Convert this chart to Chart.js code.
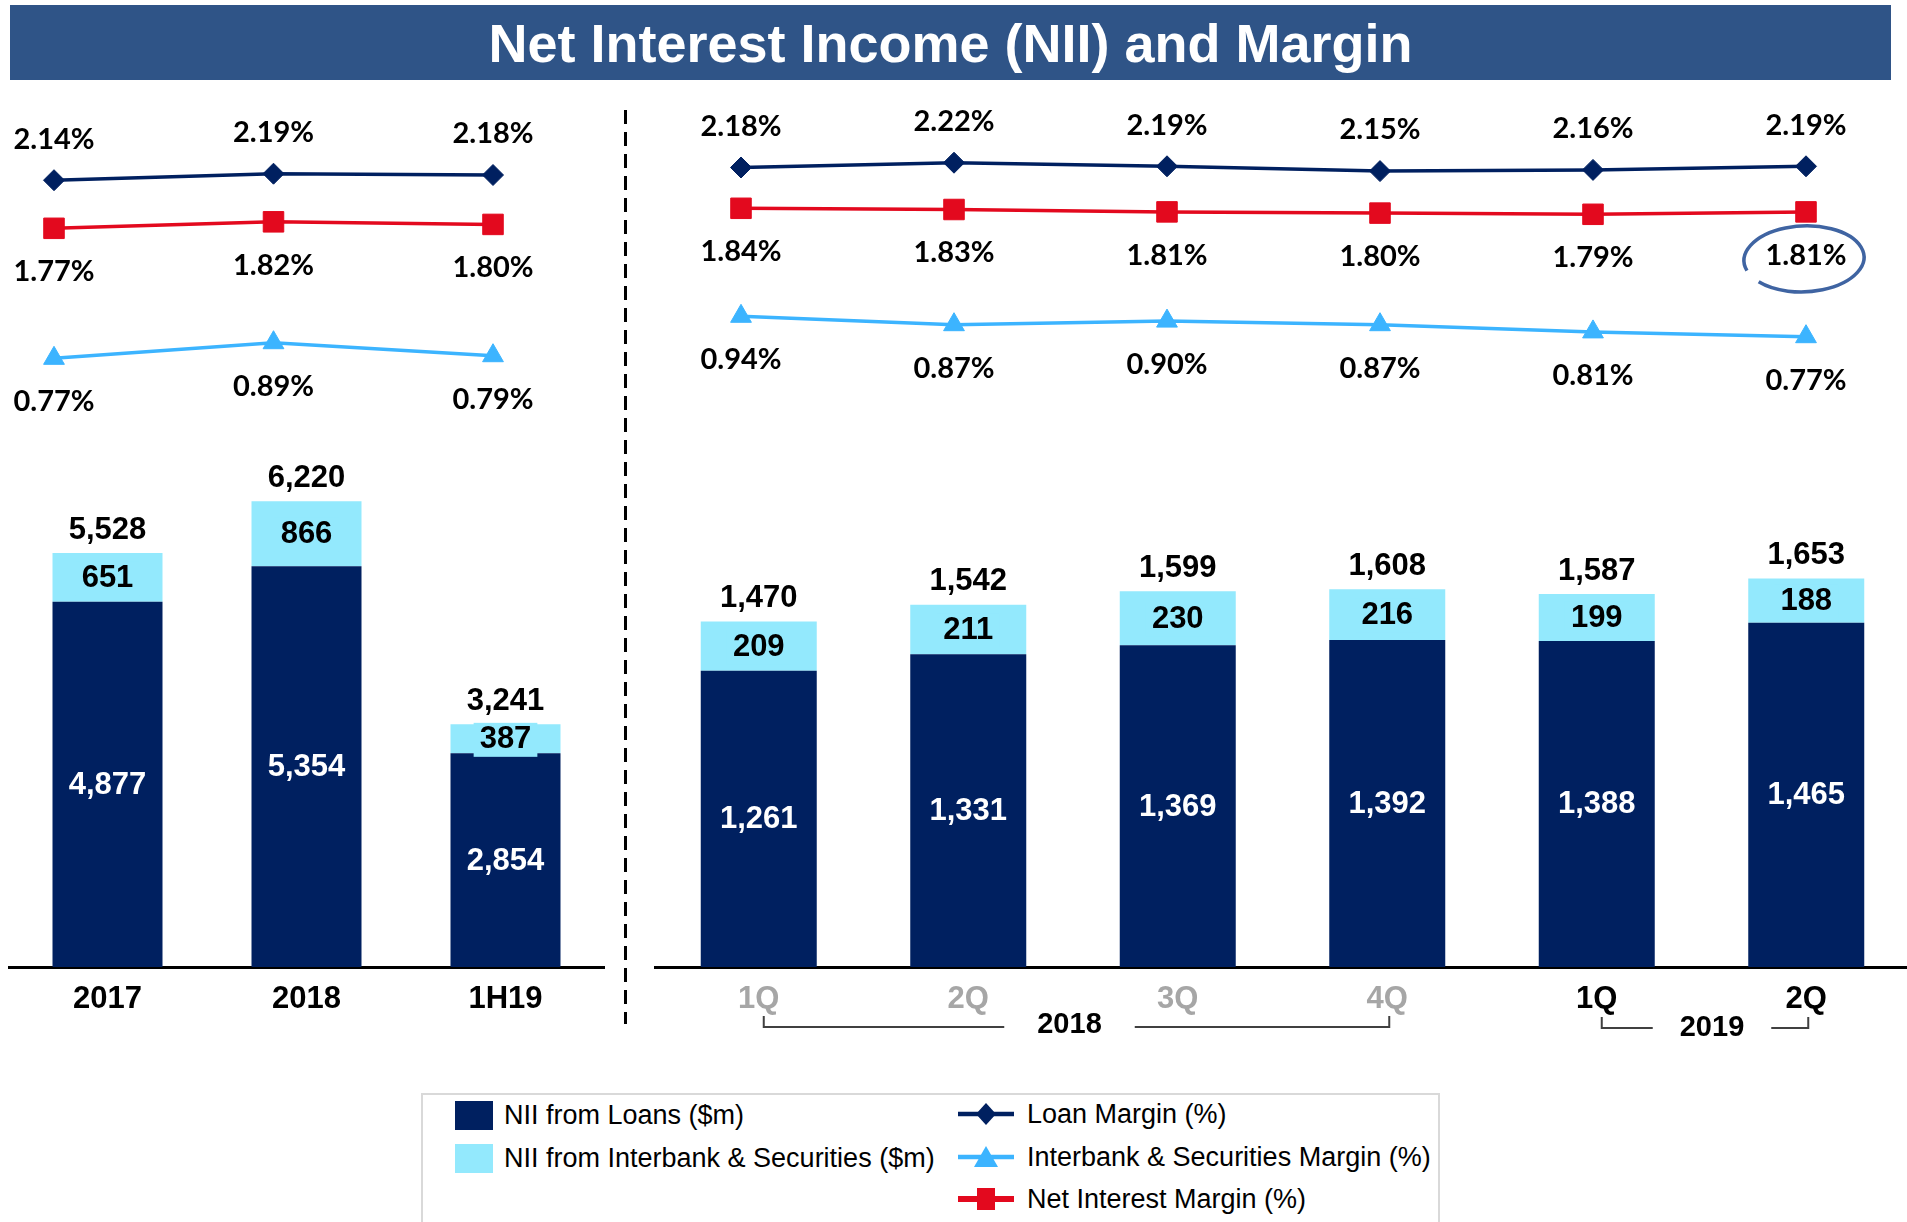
<!DOCTYPE html>
<html>
<head>
<meta charset="utf-8">
<title>Net Interest Income (NII) and Margin</title>
<script src="https://cdn.jsdelivr.net/npm/chart.js@4.4.1/dist/chart.umd.min.js"></script>
<style>
  html, body { margin:0; padding:0; background:#fff; }
  body { width:1907px; height:1222px; overflow:hidden; position:relative; font-family:"Liberation Sans", Arial, sans-serif; }
  canvas { display:block; }
  #title { position:absolute; left:10px; top:5px; width:1881px; height:75px; background:#2F5487; color:#fff;
           font-weight:bold; font-size:54px; line-height:76px; text-align:center; z-index:3; white-space:nowrap; }
  .box { position:absolute; top:0; }
  #leftBars { left:8px; width:597px; height:1057px; }
  #rightBars { left:654px; width:1257px; height:1057px; }
  #leftLines { left:0; width:640px; height:460px; z-index:2; }
  #rightLines { left:640px; width:1267px; height:460px; z-index:2; }
  #divider { position:absolute; left:0; top:0; z-index:1; pointer-events:none; }
  #legend { position:absolute; left:421px; top:1093px; width:1019px; height:160px; border:2px solid #D9D9D9; box-sizing:border-box; }
  .lg { position:absolute; height:40px; display:flex; align-items:center; font-size:27px; color:#000; white-space:nowrap; }
  .sw { display:inline-block; width:38px; height:29px; margin-right:11px; }
  .mk { display:inline-block; margin-right:13px; }
</style>
</head>
<body>
<div id="title">Net Interest Income (NII) and Margin</div>
<div class="box" id="leftBars"><canvas id="leftBarChart" width="597" height="1057"></canvas></div>
<div class="box" id="rightBars"><canvas id="rightBarChart" width="1257" height="1057"></canvas></div>
<div class="box" id="leftLines"><canvas id="leftLineChart" width="640" height="460"></canvas></div>
<div class="box" id="rightLines"><canvas id="rightLineChart" width="1267" height="460"></canvas></div>
<svg id="divider" width="1907" height="1222"><line x1="625.5" y1="110" x2="625.5" y2="1024" stroke="#000" stroke-width="3" stroke-dasharray="14 8"/></svg>
<div id="legend"></div>

<script>
// ---------------- DATA ----------------
const annualLabels = ['2017', '2018', '1H19'];
const annualLoanNII = [4877, 5354, 2854];
const annualInterbankNII = [651, 866, 387];
const annualTotalNII = [5528, 6220, 3241];
const annualLoanMargin = [2.14, 2.19, 2.18];
const annualNetInterestMargin = [1.77, 1.82, 1.80];
const annualInterbankMargin = [0.77, 0.89, 0.79];

const quarterLabels = ['1Q', '2Q', '3Q', '4Q', '1Q', '2Q'];
const quarterYears = ['2018', '2018', '2018', '2018', '2019', '2019'];
const quarterLoanNII = [1261, 1331, 1369, 1392, 1388, 1465];
const quarterInterbankNII = [209, 211, 230, 216, 199, 188];
const quarterTotalNII = [1470, 1542, 1599, 1608, 1587, 1653];
const quarterLoanMargin = [2.18, 2.22, 2.19, 2.15, 2.16, 2.19];
const quarterNetInterestMargin = [1.84, 1.83, 1.81, 1.80, 1.79, 1.81];
const quarterInterbankMargin = [0.94, 0.87, 0.90, 0.87, 0.81, 0.77];

const seriesNames = {
  loanNII: 'NII from Loans ($m)',
  ibNII: 'NII from Interbank & Securities ($m)',
  loanM: 'Loan Margin (%)',
  ibM: 'Interbank & Securities Margin (%)',
  nim: 'Net Interest Margin (%)'
};

// ---------------- STYLE ----------------
const NAVY = '#002060';
const LIGHT = '#93E9FD';
const SKY = '#3CB4FF';
const RED = '#E3091E';
const BAR_FONT = 'bold 31px "Liberation Sans", Arial, sans-serif';
const PCT_FONT = 'bold 29px Lato, "Liberation Sans", sans-serif';

const fmt = n => n.toLocaleString('en-US');

const valueLabelPlugin = {
  id: 'valueLabels',
  afterDatasetsDraw(chart) {
    const ctx = chart.ctx;
    ctx.save();
    ctx.textAlign = 'center';
    ctx.textBaseline = 'middle';
    chart.data.datasets.forEach((ds, di) => {
      const meta = chart.getDatasetMeta(di);
      meta.data.forEach((el, i) => {
        if (ds.role === 'loanBar') {
          ctx.font = BAR_FONT; ctx.fillStyle = '#fff';
          ctx.fillText(fmt(ds.data[i]), el.x, (el.y + el.base) / 2 + 1);
        } else if (ds.role === 'ibBar') {
          ctx.font = BAR_FONT;
          const t = fmt(ds.data[i]);
          const w = ctx.measureText(t).width + 12;
          const cy = (el.y + el.base) / 2 + 1;
          ctx.fillStyle = LIGHT;
          ctx.fillRect(el.x - w / 2, cy - 17, w, 34);
          ctx.fillStyle = '#000';
          ctx.fillText(t, el.x, cy);
          ctx.fillText(fmt(ds.totals[i]), el.x, el.y - 23);
        } else if (ds.role === 'lineAbove' || ds.role === 'lineBelow') {
          ctx.font = PCT_FONT; ctx.fillStyle = '#000';
          const dy = ds.role === 'lineAbove' ? -41 : 43.5;
          ctx.fillText(ds.data[i].toFixed(2) + '%', el.x, el.y + dy);
        }
      });
    });
    ctx.restore();
  }
};

function makeBracketPlugin(years) {
  return {
    id: 'yearBrackets',
    afterDraw(chart) {
      const ctx = chart.ctx, xs = chart.scales.x;
      const groups = [];
      years.forEach((y, i) => {
        const g = groups[groups.length - 1];
        if (g && g.year === y) g.end = i; else groups.push({ year: y, start: i, end: i });
      });
      const textShift = [-7, 7], gapPad = [33, 27], lineY = [1027, 1028], textY = [1025, 1028];
      ctx.save();
      ctx.strokeStyle = '#404040'; ctx.lineWidth = 2;
      ctx.font = 'bold 29px "Liberation Sans", Arial, sans-serif';
      ctx.fillStyle = '#000'; ctx.textAlign = 'center'; ctx.textBaseline = 'middle';
      groups.forEach((g, gi) => {
        const x1 = xs.getPixelForValue(g.start) + 5;
        const x2 = xs.getPixelForValue(g.end) + 2;
        const ly = lineY[gi];
        const tx = (x1 + x2) / 2 + textShift[gi];
        const half = ctx.measureText(g.year).width / 2 + gapPad[gi];
        ctx.beginPath();
        ctx.moveTo(x1, ly - 11); ctx.lineTo(x1, ly); ctx.lineTo(tx - half, ly);
        ctx.moveTo(tx + half, ly); ctx.lineTo(x2, ly); ctx.lineTo(x2, ly - 11);
        ctx.stroke();
        ctx.fillText(g.year, tx, textY[gi]);
      });
      ctx.restore();
    }
  };
}

const circlePlugin = {
  id: 'circleNote',
  afterDraw(chart) {
    const di = chart.data.datasets.findIndex(d => d.label === seriesNames.nim);
    const meta = chart.getDatasetMeta(di);
    const el = meta.data[meta.data.length - 1];
    const ctx = chart.ctx;
    ctx.save();
    ctx.strokeStyle = '#3F64A2'; ctx.lineWidth = 3.5;
    ctx.beginPath();
    ctx.ellipse(el.x - 2, el.y + 47, 60, 33, -0.04, 2.85, 2.45 + Math.PI * 2);
    ctx.stroke();
    ctx.restore();
  }
};

function buildBarChart(canvasId, c) {
  const common = { grouped: false, categoryPercentage: 1, barPercentage: c.barPct, xAxisID: 'x', yAxisID: 'y' };
  return new Chart(document.getElementById(canvasId), {
    type: 'bar',
    data: {
      labels: c.labels,
      datasets: [
        Object.assign({ label: seriesNames.loanNII, data: c.loan, role: 'loanBar', backgroundColor: NAVY }, common),
        Object.assign({ label: seriesNames.ibNII, data: c.ib, totals: c.total, role: 'ibBar', backgroundColor: LIGHT }, common)
      ]
    },
    options: {
      responsive: false,
      animation: false,
      events: [],
      layout: { autoPadding: false, padding: { top: 100, left: 0, right: 0, bottom: 0 } },
      plugins: { legend: { display: false }, title: { display: false }, tooltip: { enabled: false } },
      scales: {
        x: {
          type: 'category', offset: true, stacked: true,
          grid: { display: false, drawTicks: false },
          border: { display: true, color: '#000', width: 3 },
          ticks: { color: ctx => c.tickColors[ctx.index], font: { family: '"Liberation Sans", Arial', weight: 'bold', size: 31 },
                   padding: 14, maxRotation: 0, autoSkip: false },
          afterFit: s => { s.height = 90; }
        },
        y: { stacked: true, min: 0, max: c.yMax, display: false }
      }
    },
    plugins: [valueLabelPlugin].concat(c.extraPlugins || [])
  });
}

function buildLineChart(canvasId, c) {
  const lineDs = (label, arr, color, style, radius, role) => ({
    label, data: arr, role,
    borderColor: color, backgroundColor: color, pointBackgroundColor: color, pointBorderColor: color,
    borderWidth: 3.5, pointStyle: style, pointRadius: radius, pointBorderWidth: 1, tension: 0, clip: false
  });
  return new Chart(document.getElementById(canvasId), {
    type: 'line',
    data: {
      labels: c.labels,
      datasets: [
        lineDs(seriesNames.loanM, c.loanM, NAVY, 'rectRot', 10.5, 'lineAbove'),
        lineDs(seriesNames.nim, c.nim, RED, 'rect', 14.5, 'lineBelow'),
        lineDs(seriesNames.ibM, c.ibM, SKY, 'triangle', 12, 'lineBelow')
      ]
    },
    options: {
      responsive: false,
      animation: false,
      events: [],
      layout: { autoPadding: false, padding: { top: 100, bottom: 40, left: c.padLeft, right: c.padRight } },
      plugins: { legend: { display: false }, title: { display: false }, tooltip: { enabled: false } },
      scales: {
        x: { type: 'category', offset: false, display: false },
        y: { type: 'linear', min: c.yMin, max: c.yMax, display: false }
      }
    },
    plugins: [valueLabelPlugin].concat(c.extraPlugins || [])
  });
}

buildBarChart('leftBarChart', {
  labels: annualLabels, loan: annualLoanNII, ib: annualInterbankNII, total: annualTotalNII,
  tickColors: annualLabels.map(() => '#000'), barPct: 110 / 199, yMax: 11580
});
buildBarChart('rightBarChart', {
  labels: quarterLabels, loan: quarterLoanNII, ib: quarterInterbankNII, total: quarterTotalNII,
  tickColors: quarterYears.map(y => y === '2018' ? '#A6A6A6' : '#000'), barPct: 116 / 209.5, yMax: 3690,
  extraPlugins: [makeBracketPlugin(quarterYears)]
});
buildLineChart('leftLineChart', {
  labels: annualLabels, loanM: annualLoanMargin, nim: annualNetInterestMargin, ibM: annualInterbankMargin,
  padLeft: 54, padRight: 147, yMin: 0.2955, yMax: 2.757
});
const rightLineChart = buildLineChart('rightLineChart', {
  labels: quarterLabels, loanM: quarterLoanMargin, nim: quarterNetInterestMargin, ibM: quarterInterbankMargin,
  padLeft: 101, padRight: 101, yMin: 0.0758, yMax: 2.7425,
  extraPlugins: [circlePlugin]
});

// ---------------- LEGEND (built from the charts' datasets) ----------------
(function buildLegend() {
  const lg = document.getElementById('legend');
  const ox = 423, oy = 1095;
  const barColors = { [seriesNames.loanNII]: NAVY, [seriesNames.ibNII]: LIGHT };
  const byLabel = {};
  rightLineChart.data.datasets.forEach(d => byLabel[d.label] = d);
  const place = (html, x, cy) => {
    const d = document.createElement('div');
    d.className = 'lg';
    d.style.left = (x - ox) + 'px';
    d.style.top = (cy - oy - 20) + 'px';
    d.innerHTML = html;
    lg.appendChild(d);
  };
  const esc = s => s.replace('&', '&amp;');
  [[seriesNames.loanNII, 1115.5], [seriesNames.ibNII, 1158.5]].forEach(([name, cy]) => {
    place('<span class="sw" style="background:' + barColors[name] + '"></span>' + esc(name), 455, cy);
  });
  const marker = ds => {
    const c = ds.borderColor;
    let shape;
    if (ds.pointStyle === 'rectRot') shape = '<polygon points="28,4 38,15 28,26 18,15" fill="' + c + '"/>';
    else if (ds.pointStyle === 'triangle') shape = '<polygon points="28,4 40,25 16,25" fill="' + c + '"/>';
    else shape = '<rect x="19" y="4" width="18" height="22" fill="' + c + '"/>';
    return '<svg class="mk" width="56" height="30" viewBox="0 0 56 30"><line x1="0" y1="15" x2="56" y2="15" stroke="' + c +
      '" stroke-width="' + (ds.pointStyle === 'rect' ? 6 : 4.5) + '"/>' + shape + '</svg>';
  };
  [[seriesNames.loanM, 1114], [seriesNames.ibM, 1157], [seriesNames.nim, 1199]].forEach(([name, cy]) => {
    place(marker(byLabel[name]) + esc(name), 958, cy);
  });
})();
</script>
</body>
</html>
